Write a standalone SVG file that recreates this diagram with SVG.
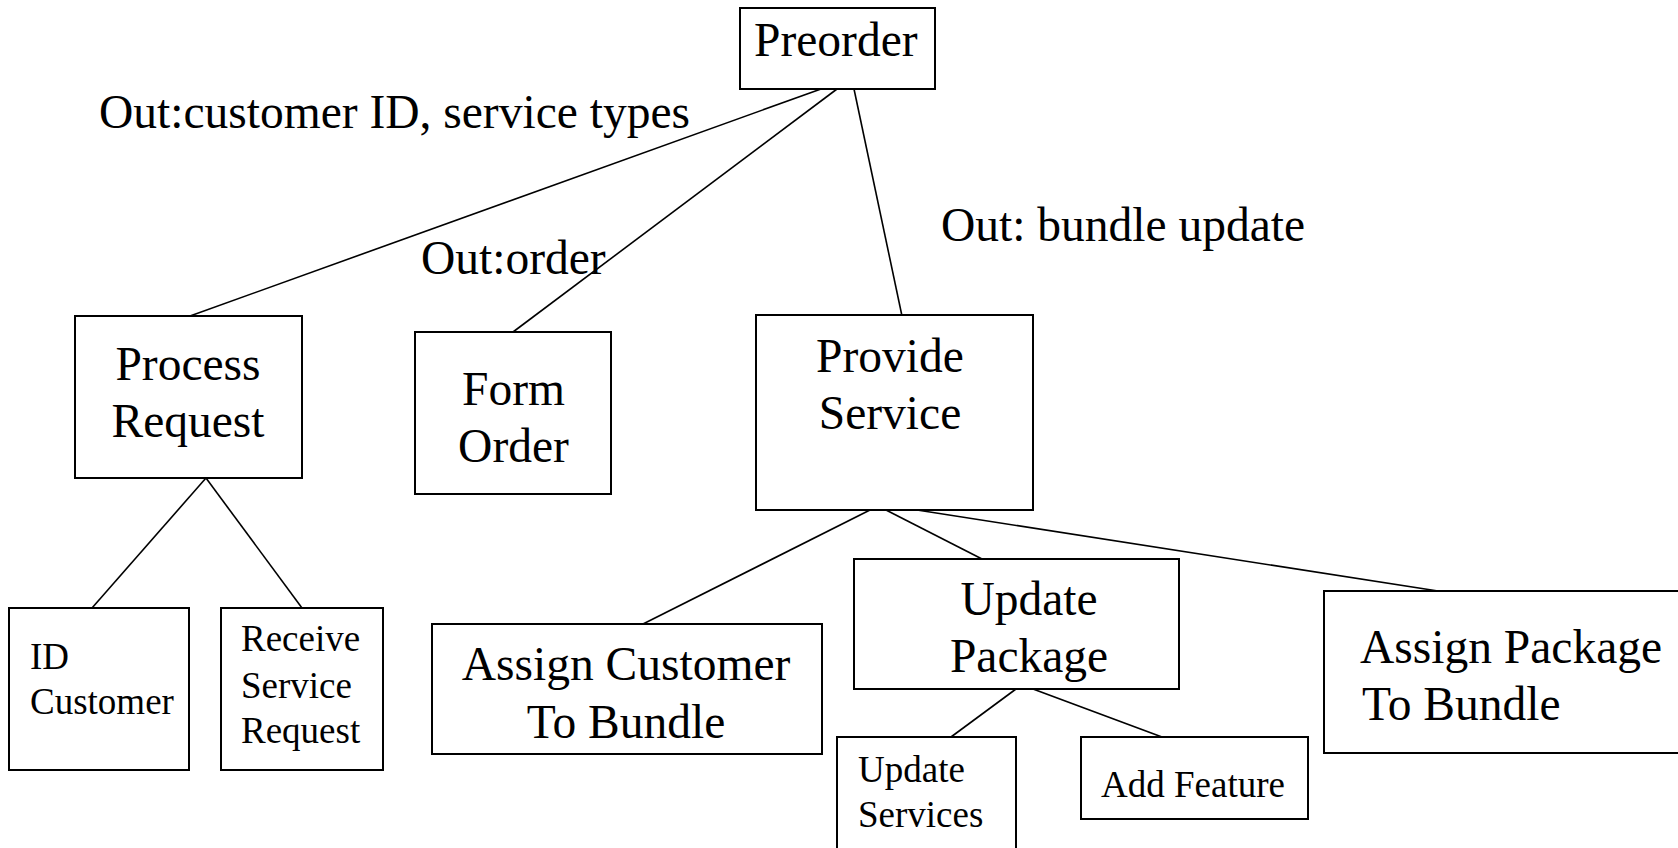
<svg xmlns="http://www.w3.org/2000/svg" width="1678" height="848" viewBox="0 0 1678 848">
<style>
.box{fill:#fff;stroke:#000;stroke-width:2}
.ln{stroke:#000;stroke-width:1.6;fill:none}
text{font-family:"Liberation Serif","Times New Roman",serif;fill:#000}
.l{font-size:47.5px}
.s{font-size:37px}
.c{text-anchor:middle}
</style>
<rect width="1678" height="848" fill="#fff"/>
<g id="connectors">
<line class="ln" x1="821" y1="89" x2="190" y2="316"/>
<line class="ln" x1="837" y1="89" x2="513" y2="332"/>
<line class="ln" x1="854" y1="89" x2="902" y2="316"/>
<line class="ln" x1="206" y1="478" x2="92" y2="608"/>
<line class="ln" x1="206" y1="478" x2="302" y2="608"/>
<line class="ln" x1="870" y1="510" x2="643" y2="624"/>
<line class="ln" x1="886" y1="510" x2="982" y2="559"/>
<line class="ln" x1="917" y1="510" x2="1438" y2="591"/>
<line class="ln" x1="1016" y1="689" x2="951" y2="737"/>
<line class="ln" x1="1033" y1="689" x2="1162" y2="737"/>
</g>
<g id="labels">
<text class="l" x="99" y="128">Out:customer ID, service types</text>
<text class="l" x="421" y="274">Out:order</text>
<text class="l" x="941" y="241">Out: bundle update</text>
</g>
<g id="preorder">
<rect class="box" x="740" y="8" width="195" height="81"/>
<text class="l" x="754" y="56">Preorder</text>
</g>
<g id="process-request">
<rect class="box" x="75" y="316" width="227" height="162"/>
<text class="l c" x="188" y="380">Process</text>
<text class="l c" x="188" y="437">Request</text>
</g>
<g id="form-order">
<rect class="box" x="415" y="332" width="196" height="162"/>
<text class="l c" x="513.5" y="405">Form</text>
<text class="l c" x="513.5" y="462">Order</text>
</g>
<g id="provide-service">
<rect class="box" x="756" y="315" width="277" height="195"/>
<text class="l c" x="890" y="372">Provide</text>
<text class="l c" x="890" y="429">Service</text>
</g>
<g id="id-customer">
<rect class="box" x="9" y="608" width="180" height="162"/>
<text class="s" x="30" y="669">ID</text>
<text class="s" x="30" y="714">Customer</text>
</g>
<g id="receive-service-request">
<rect class="box" x="221" y="608" width="162" height="162"/>
<text class="s" x="241" y="651">Receive</text>
<text class="s" x="241" y="698">Service</text>
<text class="s" x="241" y="743">Request</text>
</g>
<g id="assign-customer">
<rect class="box" x="432" y="624" width="390" height="130"/>
<text class="l c" x="626" y="680">Assign Customer</text>
<text class="l c" x="626" y="738">To Bundle</text>
</g>
<g id="update-package">
<rect class="box" x="854" y="559" width="325" height="130"/>
<text class="l c" x="1029" y="615">Update</text>
<text class="l c" x="1029" y="672">Package</text>
</g>
<g id="assign-package">
<rect class="box" x="1324" y="591" width="370" height="162"/>
<text class="l" x="1360" y="663">Assign Package</text>
<text class="l" x="1362" y="720">To Bundle</text>
</g>
<g id="update-services">
<rect class="box" x="837" y="737" width="179" height="130"/>
<text class="s" x="858" y="782">Update</text>
<text class="s" x="858" y="827">Services</text>
</g>
<g id="add-feature">
<rect class="box" x="1081" y="737" width="227" height="82"/>
<text class="s" x="1101" y="797">Add Feature</text>
</g>
</svg>
